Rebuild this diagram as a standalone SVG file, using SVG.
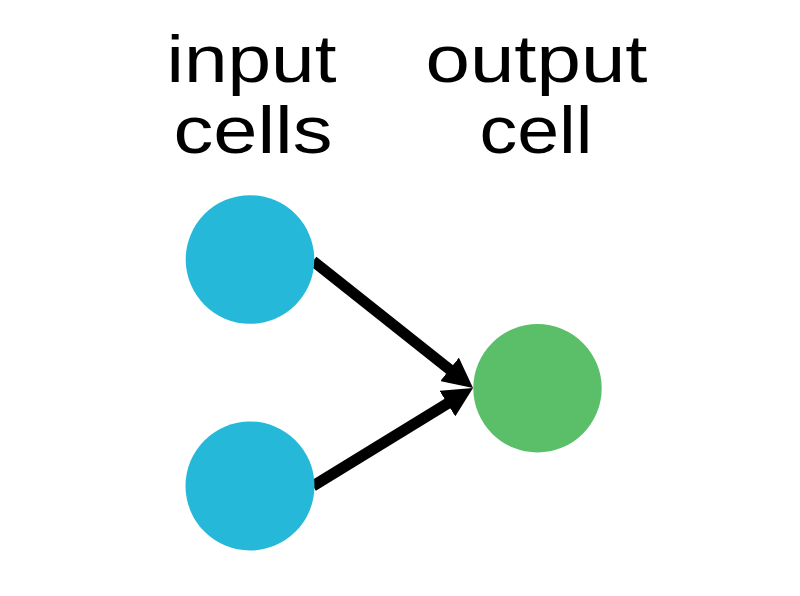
<svg xmlns="http://www.w3.org/2000/svg" width="800" height="596" viewBox="0 0 800 596">
  <style>
    .label { font-family: "Liberation Sans", Arial, Helvetica, sans-serif; font-size: 66px; fill: #000; text-anchor: middle; }
    .input { fill: #25B8D9; }
    .output { fill: #5BBF6A; }
    .edge { stroke: #000; stroke-width: 11; fill: none; marker-end: url(#arrow); }
  </style>
  <defs>
    <marker id="arrow" markerUnits="userSpaceOnUse" markerWidth="30" markerHeight="30" viewBox="0 0 30 30" refX="15" refY="15" orient="auto">
      <path d="M0,0 L30,15 L0,30 z" fill="#000"/>
    </marker>
  </defs>
  <rect width="800" height="596" fill="#fff"/>
  <g id="labels">
    <text class="label" x="251.5" y="82" textLength="170" lengthAdjust="spacingAndGlyphs">input</text>
    <text class="label" x="253" y="153" textLength="159" lengthAdjust="spacingAndGlyphs">cells</text>
    <text class="label" x="536.5" y="82" textLength="222" lengthAdjust="spacingAndGlyphs">output</text>
    <text class="label" x="536" y="153" textLength="113" lengthAdjust="spacingAndGlyphs">cell</text>
  </g>
  <g id="connectors">
    <line class="edge" x1="313" y1="261" x2="461.3" y2="378.7"/>
    <line class="edge" x1="313" y1="486" x2="460.2" y2="395.8"/>
  </g>
  <g id="input1">
    <circle class="input" cx="250" cy="259.5" r="64.3"/>
  </g>
  <g id="input2">
    <circle class="input" cx="250" cy="486" r="64.5"/>
  </g>
  <g id="output1">
    <circle class="output" cx="537.5" cy="388.3" r="64.2"/>
  </g>
</svg>
